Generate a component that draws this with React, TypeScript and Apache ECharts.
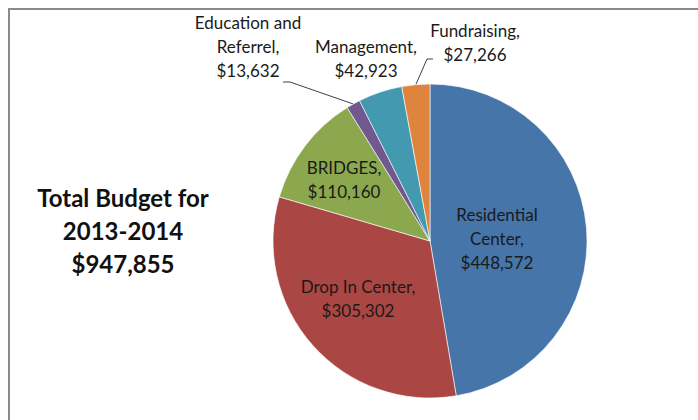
import React, { useEffect, useRef } from "react";
import * as echarts from "echarts";

const categories = ["Residential Center", "Drop In Center", "BRIDGES", "Education and Referrel", "Management", "Fundraising"];
const labelNames = ["Residential\nCenter", "Drop In Center", "BRIDGES", "Education and\nReferrel", "Management", "Fundraising"];
const values = [448572, 305302, 110160, 13632, 42923, 27266];
const colors = ["#4675AA", "#AA4643", "#8BA84E", "#71588F", "#4399B0", "#DE843C"];
const titleLines = ["Total Budget for", "2013-2014", "$947,855"];

// layout (label centers and leader-line elbows), in pixels
const CX = 430;
const CY = 241;
const R = 157;
const labelCenters: [number, number][] = [
  [497, 238],
  [358, 298],
  [344, 179],
  [248, 46],
  [366, 58],
  [475, 42],
];
const leaderElbows: ([number, number][] | null)[] = [
  null,
  null,
  null,
  [[290, 82], [283, 82]],
  null,
  [[427, 59], [433, 59]],
];
const outsideIdx = [3, 4, 5];

const FONT = "Lato, 'Open Sans', sans-serif";

export default function App() {
  const ref = useRef<HTMLDivElement>(null);
  useEffect(() => {
    if (!ref.current) return;
    const chart = echarts.init(ref.current, null, { renderer: "svg" });
    const total = values.reduce((a, b) => a + b, 0);
    const anchors: [number, number][] = [];
    let acc = 0;
    values.forEach((v) => {
      const mid = ((acc + v / 2) / total) * Math.PI * 2;
      anchors.push([CX + R * Math.sin(mid), CY - R * Math.cos(mid)]);
      acc += v;
    });
    const data = categories.map((name, i) => ({
      name,
      value: values[i],
      itemStyle: { color: colors[i] },
      label: { position: outsideIdx.includes(i) ? "outside" : "inside" },
      labelLine: { show: leaderElbows[i] !== null, lineStyle: { color: "#404040", width: 1 } },
    }));
    chart.setOption({
      animation: false,
      backgroundColor: "#ffffff",
      graphic: [
        {
          type: "rect",
          shape: { x: 9, y: 9, width: 900, height: 700 },
          style: { fill: "none", stroke: "#8a8a8a", lineWidth: 2 },
          silent: true,
        },
        {
          type: "text",
          x: 123,
          y: 230,
          style: {
            text: titleLines.join("\n"),
            font: `bold 24px ${FONT}`,
            fill: "#111111",
            align: "center",
            verticalAlign: "middle",
            lineHeight: 33,
          },
        },
      ],
      series: [
        {
          type: "pie",
          center: [CX, CY],
          radius: R,
          startAngle: 90,
          clockwise: true,
          avoidLabelOverlap: false,
          itemStyle: { borderColor: "rgba(255,255,255,0.6)", borderWidth: 1 },
          label: {
            show: true,
            fontFamily: FONT,
            fontSize: 17,
            lineHeight: 24,
            color: "#1a1a1a",
            align: "center",
            formatter: (p: any) =>
              `${labelNames[p.dataIndex]},\n$${Number(p.value).toLocaleString("en-US")}`,
          },
          labelLine: { length: 10, length2: 10 },
          labelLayout: (p: any) => {
            const i = p.dataIndex;
            const [x, y] = labelCenters[i];
            const res: any = { x, y, align: "center", verticalAlign: "middle" };
            const el = leaderElbows[i];
            if (el) res.labelLinePoints = [anchors[i], el[0], el[1]];
            return res;
          },
          data,
        },
      ],
    });
    return () => chart.dispose();
  }, []);
  return (
    <div
      ref={ref}
      style={{ position: "fixed", left: 0, top: 0, width: 698, height: 420 }}
    />
  );
}
